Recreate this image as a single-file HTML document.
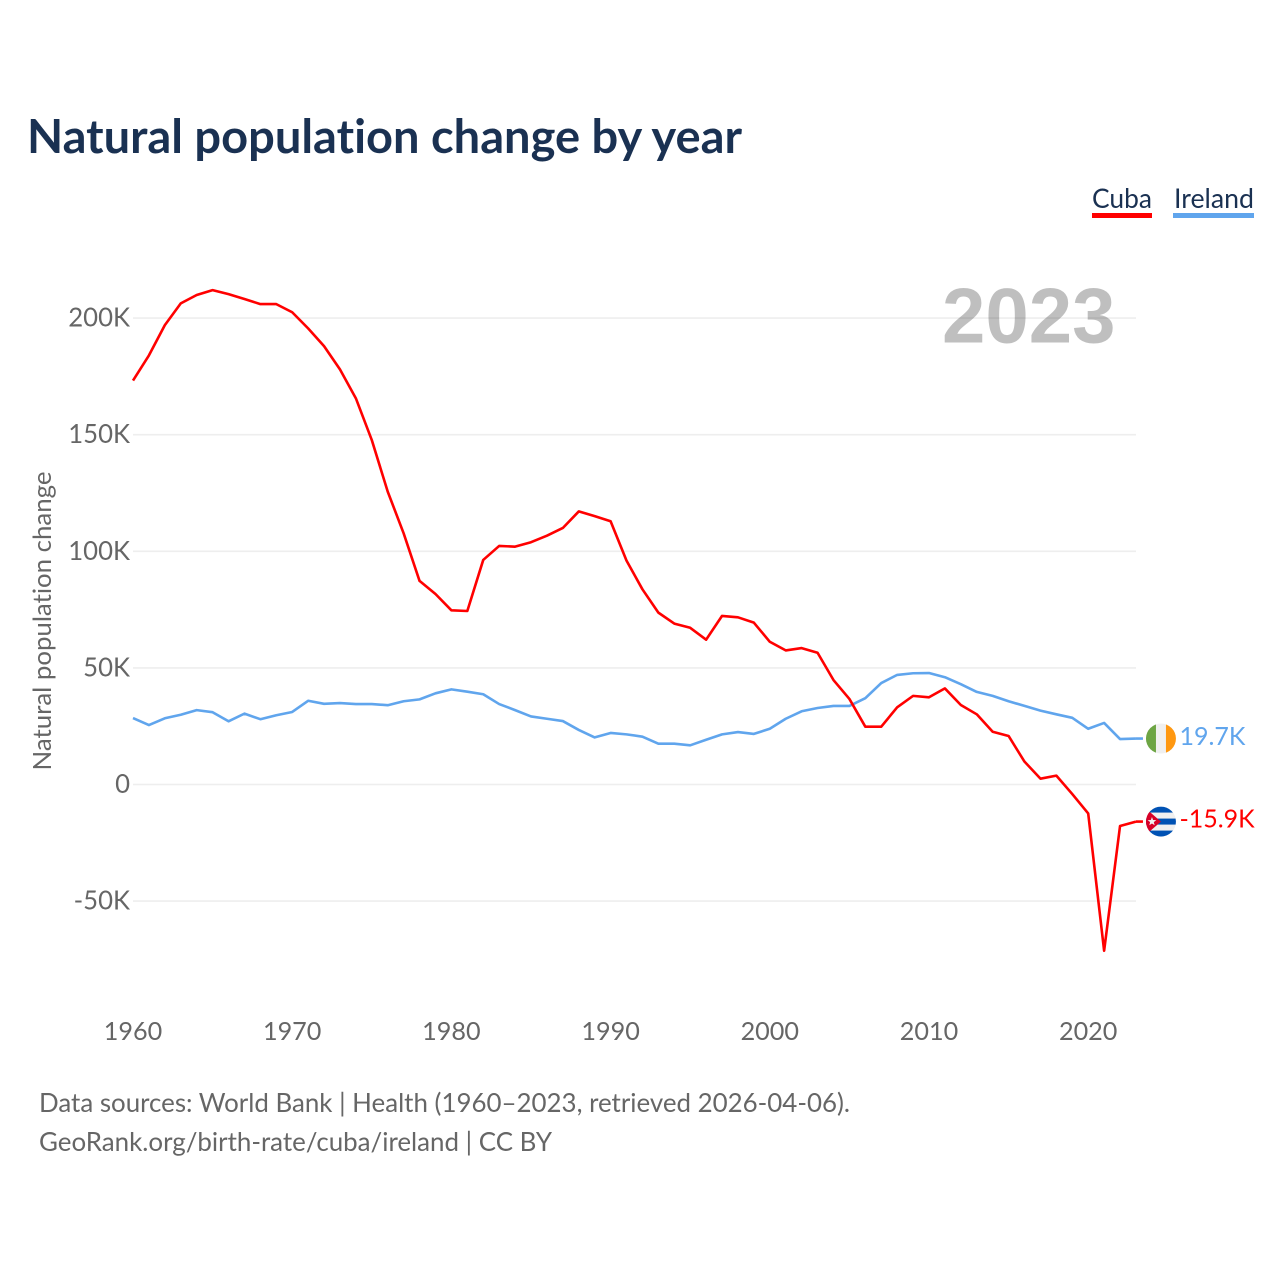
<!DOCTYPE html>
<html lang="en">
<head>
<meta charset="utf-8">
<title>Natural population change by year</title>
<style>
html,body{margin:0;padding:0;background:#fff}
svg{display:block}
text{font-family:"Lato","Carlito","Liberation Sans",sans-serif;font-variant-ligatures:none}
</style>
</head>
<body>
<svg id="chart" xmlns="http://www.w3.org/2000/svg" width="1280" height="1280" viewBox="0 0 1280 1280">
  <rect width="1280" height="1280" fill="#fff"/>
  <text x="27" y="153" font-size="46.5" font-weight="700" fill="#1a3152" textLength="715" lengthAdjust="spacingAndGlyphs">Natural population change by year</text>

  <g>
    <g>
      <text x="1092" y="208" font-size="27" fill="#1a3152" textLength="60" lengthAdjust="spacingAndGlyphs">Cuba</text>
      <rect x="1092" y="213" width="60" height="5" fill="#ff0000"/>
    </g>
    <g>
      <text x="1174" y="208" font-size="27" fill="#1a3152" textLength="80" lengthAdjust="spacingAndGlyphs">Ireland</text>
      <rect x="1173" y="213" width="81" height="5" fill="#60a5ed"/>
    </g>
  </g>

  <g id="grid"></g>
  <g id="yticks"></g>
  <g id="xticks"></g>

  <text transform="translate(51,621) rotate(-90)" text-anchor="middle" font-size="25" fill="#666" textLength="299" lengthAdjust="spacingAndGlyphs">Natural population change</text>

  <text x="1115.5" y="342.5" text-anchor="end" font-size="78" font-weight="700" fill="#000" fill-opacity="0.25" style="font-family:'Liberation Sans',sans-serif">2023</text>

  <g id="series"></g>
  <g id="ends"></g>

  <text x="39" y="1112" font-size="26.5" fill="#666" textLength="811" lengthAdjust="spacingAndGlyphs">Data sources: World Bank | Health (1960–2023, retrieved 2026-04-06).</text>
  <text x="39" y="1151" font-size="26.5" fill="#666" textLength="513" lengthAdjust="spacingAndGlyphs">GeoRank.org/birth-rate/cuba/ireland | CC BY</text>
</svg>

<script>
const startYear = 1960;
const yTickValues = [-50, 0, 50, 100, 150, 200];
const yTickLabels = ["-50K", "0", "50K", "100K", "150K", "200K"];
const xTickYears = [1960, 1970, 1980, 1990, 2000, 2010, 2020];
const cubaValues = [173.2,184,197,206.3,209.9,212,210.3,208.2,206,206,202.5,195.6,188,178,165.6,147.7,125.6,107.7,87.3,81.7,74.7,74.4,96.3,102.3,102,103.9,106.7,110,117.1,115.1,112.9,96,83.7,73.7,69,67.2,62.1,72.3,71.7,69.4,61.2,57.5,58.5,56.5,44.8,36.7,24.8,24.8,33.1,38,37.4,41.2,34.1,30.1,22.6,20.8,9.8,2.5,3.8,-4.1,-12.4,-71.3,-17.8,-15.9];
const irelandValues = [28.5,25.5,28.4,29.9,31.9,31,27.1,30.4,28,29.7,31.1,35.9,34.6,34.9,34.5,34.5,34,35.7,36.5,39.1,40.8,39.8,38.7,34.5,31.9,29.2,28.2,27.2,23.4,20.2,22.1,21.5,20.5,17.5,17.5,16.8,19.2,21.5,22.5,21.7,23.9,28.2,31.4,32.8,33.7,33.7,37,43.5,47,47.7,47.8,46,43,39.7,38,35.7,33.7,31.7,30.1,28.6,23.9,26.4,19.5,19.7];
const cubaEndLabel = "-15.9K";
const irelandEndLabel = "19.7K";

const SVGNS = "http://www.w3.org/2000/svg";
function xScale(year) { return 133 + (year - 1960) * 15.92; }
function yScale(value) { return 784.5 - value * 2.332; }
function make(tag, attrs, parent) {
  const el = document.createElementNS(SVGNS, tag);
  for (const k in attrs) el.setAttribute(k, attrs[k]);
  parent.appendChild(el);
  return el;
}

const grid = document.getElementById("grid");
const yticks = document.getElementById("yticks");
const xticks = document.getElementById("xticks");
const seriesG = document.getElementById("series");
const ends = document.getElementById("ends");

yTickValues.forEach(function (v, i) {
  const line = make("line", {x1: 133, x2: 1136, y1: yScale(v), y2: yScale(v), stroke: "#eeeeee", "stroke-width": 1.6}, grid);
  
  
  const t = make("text", {x: 130, y: yScale(v) + 8.5, "text-anchor": "end", "font-size": 25.7, fill: "#666"}, yticks);
  
  
  t.textContent = yTickLabels[i];
});

xTickYears.forEach(function (yr) {
  const t = make("text", {x: xScale(yr), y: 1040, "text-anchor": "middle", "font-size": 25.2, fill: "#666"}, xticks);
  
  
  t.textContent = String(yr);
});

function pointsFor(values) {
  return values.map(function (v, i) {
    return xScale(startYear + i).toFixed(2) + "," + yScale(v).toFixed(2);
  }).join(" ");
}

const irelandLine = make("polyline", {points: pointsFor(irelandValues), fill: "none", stroke: "#60a5ed", "stroke-width": 2.6, "stroke-linejoin": "round"}, seriesG);


const cubaLine = make("polyline", {points: pointsFor(cubaValues), fill: "none", stroke: "#ff0000", "stroke-width": 2.6, "stroke-linejoin": "round"}, seriesG);



const lastYear = startYear + cubaValues.length - 1;
const endX = xScale(lastYear);
const flagCx = endX + 25;

function clipFor(id, cy) {
  const cp = make("clipPath", {id: id}, ends);
  make("circle", {cx: flagCx, cy: cy, r: 15}, cp);
}

/* Ireland end marker */
const irY = yScale(irelandValues[irelandValues.length - 1]);
const irLead = make("line", {x1: endX, x2: flagCx - 18, y1: irY, y2: irY, stroke: "#60a5ed", "stroke-width": 2.6}, ends);


clipFor("clip-ie", irY);
const ie = make("g", {"clip-path": "url(#clip-ie)"}, ends);


make("rect", {x: flagCx - 15, y: irY - 15, width: 30, height: 30, fill: "#f0f0f0"}, ie);
make("rect", {x: flagCx - 15, y: irY - 15, width: 10, height: 30, fill: "#6da544"}, ie);
make("rect", {x: flagCx + 5, y: irY - 15, width: 10, height: 30, fill: "#ff9811"}, ie);
const irText = make("text", {x: flagCx + 18.5, y: irY + 6.5, "font-size": 25, fill: "#60a5ed"}, ends);


irText.textContent = irelandEndLabel;

/* Cuba end marker */
const cuY = yScale(cubaValues[cubaValues.length - 1]);
const cuLead = make("line", {x1: endX, x2: flagCx - 18, y1: cuY, y2: cuY, stroke: "#ff0000", "stroke-width": 2.6}, ends);


clipFor("clip-cu", cuY);
const cu = make("g", {"clip-path": "url(#clip-cu)"}, ends);


make("rect", {x: flagCx - 15, y: cuY - 15, width: 30, height: 30, fill: "#f0f0f0"}, cu);
make("rect", {x: flagCx - 15, y: cuY - 15, width: 30, height: 6, fill: "#0052b4"}, cu);
make("rect", {x: flagCx - 15, y: cuY - 3, width: 30, height: 6, fill: "#0052b4"}, cu);
make("rect", {x: flagCx - 15, y: cuY + 9, width: 30, height: 6, fill: "#0052b4"}, cu);
make("polygon", {points: [(flagCx - 15) + "," + (cuY - 13), (flagCx) + "," + cuY, (flagCx - 15) + "," + (cuY + 13)].join(" "), fill: "#d80027"}, cu);
const starPts = [];
for (let k = 0; k < 10; k++) {
  const r = k % 2 === 0 ? 4.6 : 1.9;
  const a = -Math.PI / 2 + k * Math.PI / 5;
  starPts.push((flagCx - 9 + r * Math.cos(a)).toFixed(2) + "," + (cuY + r * Math.sin(a)).toFixed(2));
}
make("polygon", {points: starPts.join(" "), fill: "#f0f0f0"}, cu);
const cuText = make("text", {x: flagCx + 18.5, y: cuY + 6, "font-size": 25, fill: "#ff0000"}, ends);


cuText.textContent = cubaEndLabel;
</script>
</body>
</html>
